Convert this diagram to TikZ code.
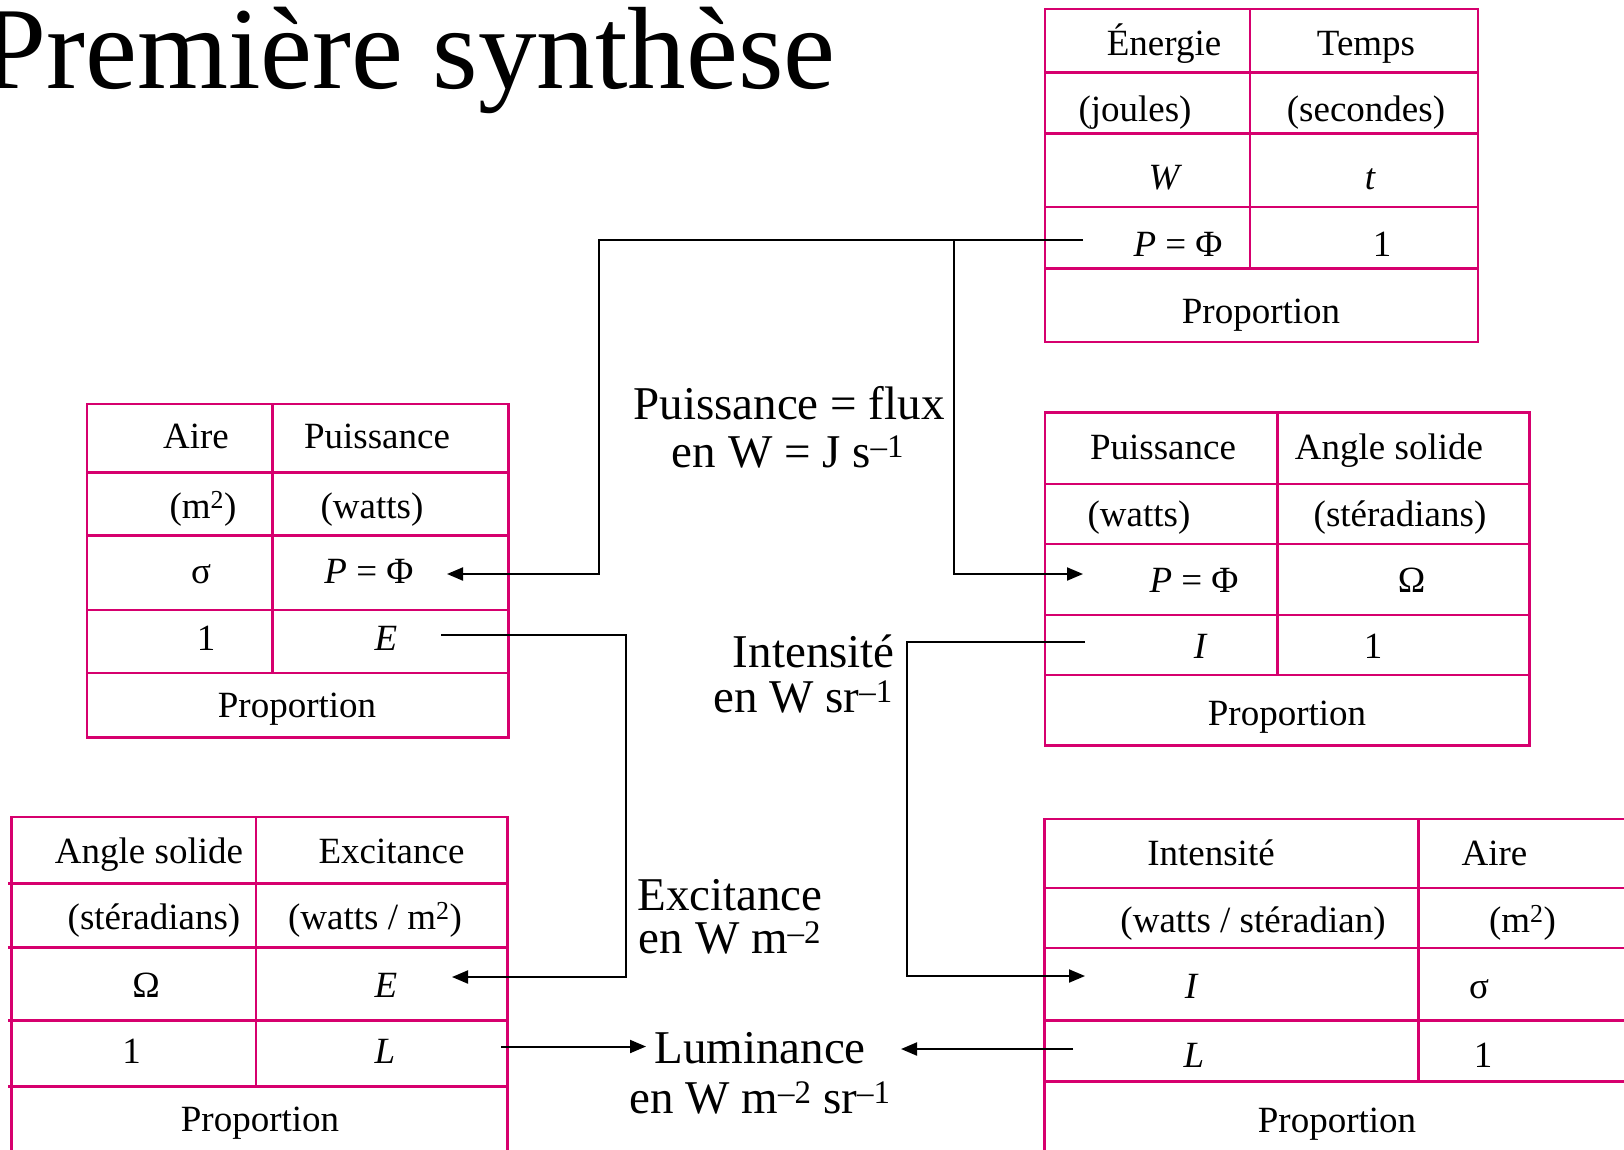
\documentclass[tikz,border=0pt]{standalone}
\usepackage{fontspec}
\setmainfont{Liberation Serif}
\usetikzlibrary{arrows.meta}
\definecolor{tabpink}{RGB}{214,0,110}
\begin{document}
\begin{tikzpicture}[x=1pt,y=-1pt,
  tab/.style={draw=tabpink,line width=2.5pt},
  cell/.style={anchor=base,inner sep=0pt,font=\fontsize{37}{44}\selectfont},
  lbl/.style={anchor=base,inner sep=0pt,font=\fontsize{47}{56}\selectfont},
  lblr/.style={lbl,anchor=base east},
  conn/.style={draw=black,line width=2pt},
  arr/.style={conn,-{Triangle[length=16pt,width=13pt]}}]
\clip (0,0) rectangle (1624,1149);
\fill[white] (0,0) rectangle (1624,1149);

% title
\node[anchor=base west,inner sep=0pt,font=\fontsize{117}{130}\selectfont] (title) at (-19,88) {Première synthèse};

% ---------- table 1 : energie / temps
\draw[tab] (1045,9) rectangle (1478,342);
\foreach \yy in {72.5,133.6,207.1,268.3} \draw[tab] (1045,\yy) -- (1478,\yy);
\draw[tab] (1250,9) -- (1250,268.3);
\node[cell] (t1a) at (1164,55) {Énergie};
\node[cell] (t1b) at (1366,55) {Temps};
\node[cell] (t1c) at (1135,121) {(joules)};
\node[cell] (t1d) at (1366,121) {(secondes)};
\node[cell] (t1e) at (1164,189) {\itshape W};
\node[cell] (t1f) at (1370,189) {\itshape t};
\node[cell] (t1g) at (1178,256) {{\itshape P} = Φ};
\node[cell] (t1h) at (1382,256) {1};
\node[cell] (t1p) at (1261,323) {Proportion};

% ---------- table 2 : aire / puissance
\draw[tab] (87,404) rectangle (508.5,737.5);
\foreach \yy in {472.5,535.5,610,673.2} \draw[tab] (87,\yy) -- (508.5,\yy);
\draw[tab] (272.4,404) -- (272.4,673.2);
\node[cell] (t2a) at (196,448) {Aire};
\node[cell] (t2b) at (377,448) {Puissance};
\node[cell] (t2c) at (203,518) {(m\textsuperscript{2})};
\node[cell] (t2d) at (372,518) {(watts)};
\node[cell] (t2e) at (201,583) {σ};
\node[cell] (t2f) at (369,583) {{\itshape P} = Φ};
\node[cell] (t2g) at (206,650) {1};
\node[cell] (t2h) at (386,650) {\itshape E};
\node[cell] (t2p) at (297,717) {Proportion};

% ---------- table 3 : puissance / angle solide
\draw[tab] (1045,412.3) rectangle (1529.5,745.5);
\foreach \yy in {484,544,615,675} \draw[tab] (1045,\yy) -- (1529.5,\yy);
\draw[tab] (1277.7,412.3) -- (1277.7,675);
\node[cell] (t3a) at (1163,459) {Puissance};
\node[cell] (t3b) at (1389,459) {Angle solide};
\node[cell] (t3c) at (1139,526) {(watts)};
\node[cell] (t3d) at (1400,526) {(stéradians)};
\node[cell] (t3e) at (1194,592.7) {{\itshape P} = Φ};
\node[cell] (t3f) at (1411.7,592.7) {Ω};
\node[cell] (t3g) at (1200,658) {\itshape I};
\node[cell] (t3h) at (1373,658) {1};
\node[cell] (t3p) at (1287,725) {Proportion};

% ---------- table 4 : angle solide / excitance
\draw[tab] (11.4,1160) -- (11.4,817) -- (507.5,817) -- (507.5,1160);
\foreach \yy in {883.5,947.5,1020.5,1086.5} \draw[tab] (8,\yy) -- (507.5,\yy);
\draw[tab] (255.8,817) -- (255.8,1086.5);
\node[cell] (t4a) at (149,863) {Angle solide};
\node[cell] (t4b) at (391.5,863) {Excitance};
\node[cell] (t4c) at (154,929) {(stéradians)};
\node[cell] (t4d) at (375,929) {(watts / m\textsuperscript{2})};
\node[cell] (t4e) at (146,997) {Ω};
\node[cell] (t4f) at (386,997) {\itshape E};
\node[cell] (t4g) at (131.5,1063) {1};
\node[cell] (t4h) at (385,1063) {\itshape L};
\node[cell] (t4p) at (260,1131) {Proportion};

% ---------- table 5 : intensite / aire
\draw[tab] (1044.4,1160) -- (1044.4,819) -- (1640,819);
\foreach \yy in {888,948,1020.7,1081.5} \draw[tab] (1044.4,\yy) -- (1640,\yy);
\draw[tab] (1418.5,819) -- (1418.5,1082);
\node[cell] (t5a) at (1211,865) {Intensité};
\node[cell] (t5b) at (1494.5,865) {Aire};
\node[cell] (t5c) at (1253,932) {(watts / stéradian)};
\node[cell] (t5d) at (1522.5,932) {(m\textsuperscript{2})};
\node[cell] (t5e) at (1191,998) {\itshape I};
\node[cell] (t5f) at (1479,998) {σ};
\node[cell] (t5g) at (1194,1067) {\itshape L};
\node[cell] (t5h) at (1483,1067) {1};
\node[cell] (t5p) at (1337,1132) {Proportion};

% ---------- labels
\node[lbl] (lp1) at (789,419) {Puissance = flux};
\node[lbl] (lp2) at (788,467) {en W = J s\textsuperscript{–1}};
\node[lblr] (li1) at (895,667) {Intensité};
\node[lblr] (li2) at (893,712) {en W sr\textsuperscript{–1}};
\node[lbl] (le1) at (730,910) {Excitance};
\node[lbl] (le2) at (730,953) {en W m\textsuperscript{–2}};
\node[lbl] (ll1) at (760,1063) {Luminance};
\node[lbl] (ll2) at (760,1113) {en W m\textsuperscript{–2} sr\textsuperscript{–1}};

% ---------- connector points
\coordinate (c1s) at (1083,239.5);
\coordinate (c1j) at (954,239.5);
\coordinate (c1k) at (598.6,239.5);
\coordinate (c1l) at (598.6,574);
\coordinate (c1t) at (447,574);
\coordinate (c1m) at (954,574);
\coordinate (c1u) at (1083,574);
\coordinate (c2s) at (441,635);
\coordinate (c2k) at (625.7,635);
\coordinate (c2l) at (625.7,977);
\coordinate (c2t) at (452,977);
\coordinate (c3s) at (1085,642);
\coordinate (c3k) at (907,642);
\coordinate (c3l) at (907,976);
\coordinate (c3t) at (1085,976);
\coordinate (c4s) at (501,1046.5);
\coordinate (c4t) at (646,1046.5);
\coordinate (c5s) at (1073,1049);
\coordinate (c5t) at (901,1049);

\draw[arr] (c1s) -- (c1k) -- (c1l) -- (c1t);
\draw[arr] (c1j) -- (c1m) -- (c1u);
\draw[arr] (c2s) -- (c2k) -- (c2l) -- (c2t);
\draw[arr] (c3s) -- (c3k) -- (c3l) -- (c3t);
\draw[arr] (c4s) -- (c4t);
\draw[arr] (c5s) -- (c5t);
\end{tikzpicture}
\end{document}
